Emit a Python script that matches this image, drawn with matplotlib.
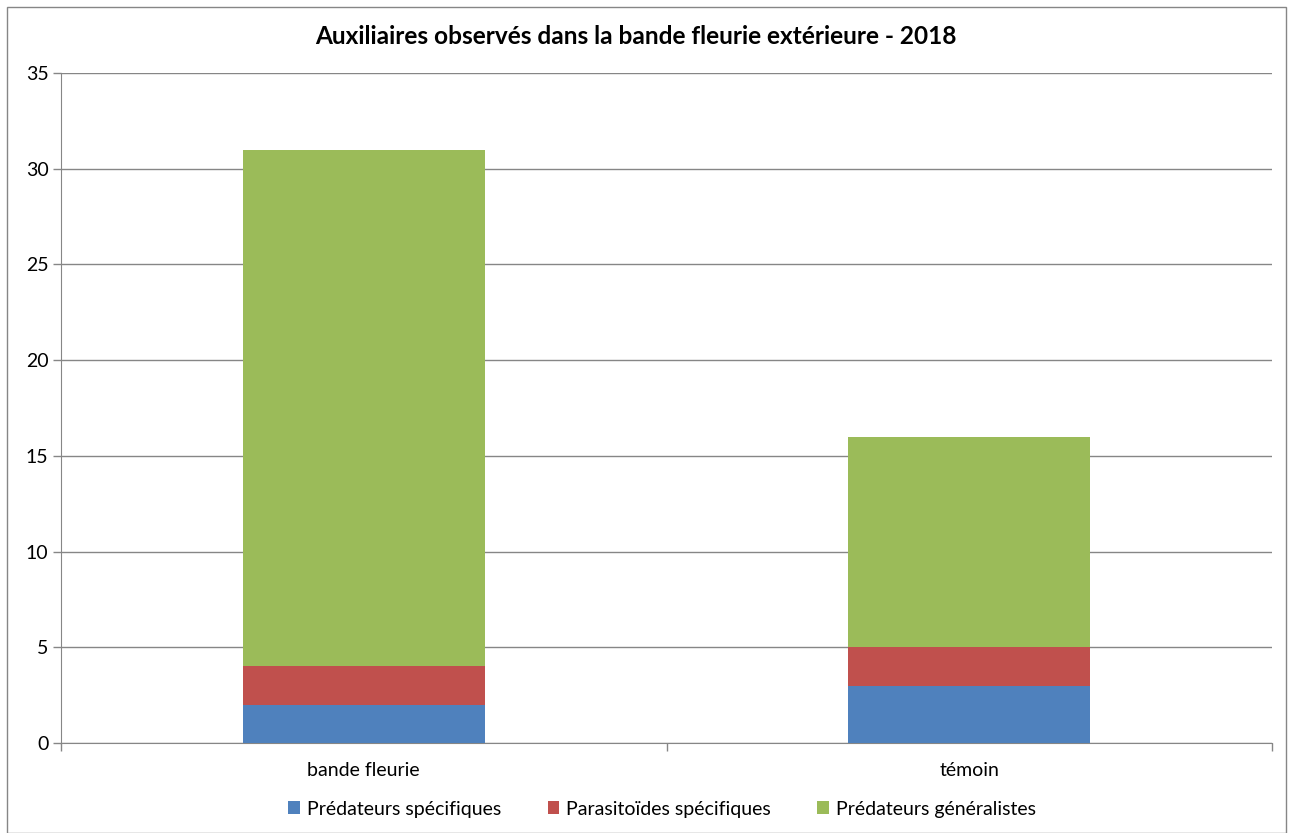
import matplotlib.pyplot as plt
from matplotlib.patches import Rectangle
import numpy as np

# donnees
categories = ["bande fleurie", "témoin"]
predateurs_specifiques = [2, 3]
parasitoides_specifiques = [2, 2]
predateurs_generalistes = [27, 11]
series_names = ["Prédateurs spécifiques", "Parasitoïdes spécifiques", "Prédateurs généralistes"]
series_colors = ["#4F81BD", "#C0504D", "#9BBB59"]

plt.rcParams["font.family"] = ["Lato", "DejaVu Sans"]

fig = plt.figure(figsize=(12.93, 8.33), dpi=100)
ax = fig.add_axes([61 / 1293, 1 - 743 / 833, (1272 - 61) / 1293, (743 - 73) / 833])

x = np.arange(len(categories))
bottom = np.zeros(len(categories))
for values, name, color in zip(
    [predateurs_specifiques, parasitoides_specifiques, predateurs_generalistes],
    series_names,
    series_colors,
):
    ax.bar(x, values, width=0.4, bottom=bottom, color=color, label=name, zorder=3)
    bottom += np.array(values)

ax.set_xlim(-0.5, 1.5)
ax.set_ylim(0, 35)
ax.set_yticks(range(0, 36, 5))
ax.set_xticks(x)
ax.set_xticklabels(categories)
ax.set_xticks([-0.5, 0.5, 1.5], minor=True)
ax.tick_params(axis="x", which="major", length=0, pad=14, labelsize=14)
ax.tick_params(axis="x", which="minor", length=6, color="#868686", width=1)
ax.tick_params(axis="y", length=6, color="#868686", width=1, labelsize=14, pad=3)
ax.grid(axis="y", color="#868686", linewidth=1, zorder=0)

for side in ["top", "right"]:
    ax.spines[side].set_visible(False)
for side in ["left", "bottom"]:
    ax.spines[side].set_color("#868686")

fig.text(636 / 1293, 1 - 37 / 833, "Auxiliaires observés dans la bande fleurie extérieure - 2018",
         ha="center", va="center", fontsize=17.6, fontweight="bold")

fig.legend(loc="center", bbox_to_anchor=(662 / 1293, 1 - 809 / 833), ncol=3, frameon=False,
           fontsize=14, handlelength=0.6, handleheight=0.6, handletextpad=0.35, columnspacing=2.4)

fig.patches.append(Rectangle((7 / 1293, 0), 1 - 14 / 1293, 1 - 7 / 833, transform=fig.transFigure,
                             fill=False, edgecolor="#868686", linewidth=1))

fig.savefig("out.png", dpi=100)
